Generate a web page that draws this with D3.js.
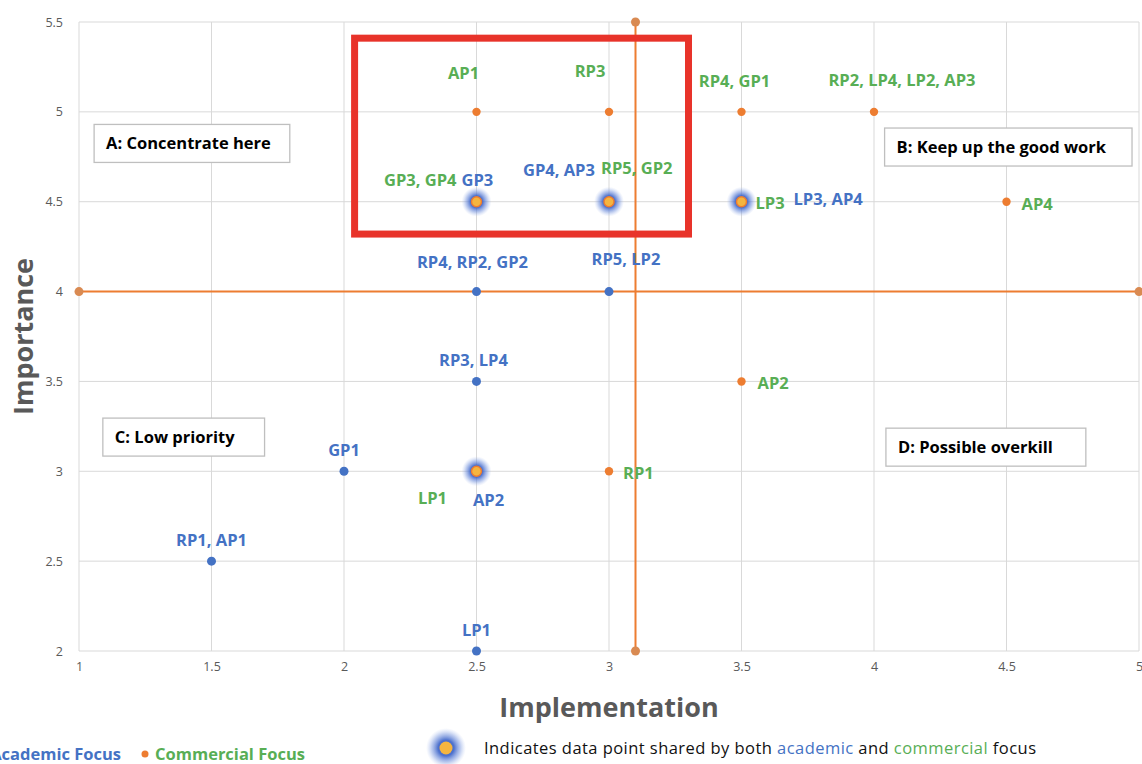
<!DOCTYPE html>
<html>
<head>
<meta charset="utf-8">
<script src="https://cdn.jsdelivr.net/npm/d3@7"></script>
<style>
  body { margin: 0; background: #fff; }
  svg { display: block; font-family: "Open Sans", sans-serif; }
</style>
</head>
<body>
<div id="chart"></div>
<script>
// ---- data ----
const xTicks = [1, 1.5, 2, 2.5, 3, 3.5, 4, 4.5, 5];
const yTicks = [2, 2.5, 3, 3.5, 4, 4.5, 5, 5.5];

// academic focus points (blue)
const academicX = [1.5, 2, 2.5, 2.5, 2.5, 3, 2.5, 3, 3.5, 2.5];
const academicY = [2.5, 3, 2, 3.5, 4, 4, 4.5, 4.5, 4.5, 3];
const academicLabels = ["RP1, AP1", "GP1", "LP1", "RP3, LP4", "RP4, RP2, GP2", "RP5, LP2", "GP3", "GP4, AP3", "LP3, AP4", "AP2"];

// commercial focus points (orange)
const commercialX = [2.5, 3, 3.5, 4, 4.5, 3.5, 3, 2.5, 3, 3.5, 2.5];
const commercialY = [5, 5, 5, 5, 4.5, 3.5, 3, 4.5, 4.5, 4.5, 3];
const commercialLabels = ["AP1", "RP3", "RP4, GP1", "RP2, LP4, LP2, AP3", "AP4", "AP2", "RP1", "GP3, GP4", "RP5, GP2", "LP3", "LP1"];

// points shared by both
const sharedX = [2.5, 3, 3.5, 2.5];
const sharedY = [4.5, 4.5, 4.5, 3];

// mean lines (quadrant split)
const splitX = 3.1;
const splitY = 4;

// quadrant notes
const quadrantText = ["A: Concentrate here", "B: Keep up the good work", "C: Low priority", "D: Possible overkill"];
const quadrantX = [1.057, 4.04, 1.09, 4.045];
const quadrantY = [4.93, 4.91, 3.296, 3.24];

// highlighted area
const highlightX = [2.04, 3.3];
const highlightY = [4.32, 5.41];

// ---- layout / style ----
const width = 1142, height = 764;
const margin = {left: 79, right: 3, top: 22, bottom: 113};
const blue = "#4472C4", orange = "#ED7D31", green = "#58AE55";
const boxPad = [31, 38, 42, 45];

// label placement [dx, dy, anchor] for each point, same order as data
const academicPlace = [[0, -21, "middle"], [0, -21, "middle"], [0, -21, "middle"], [-3, -21, "middle"], [-4, -30, "middle"],
  [17, -33, "middle"], [-15, -22, "start"], [-86, -32, "start"], [52, -3, "start"], [12, 29, "middle"]];
const commercialPlace = [[-13, -39, "middle"], [-19, -41, "middle"], [-7, -31, "middle"], [28, -32, "middle"], [15, 2, "start"],
  [16, 2, "start"], [14, 2, "start"], [-20, -22, "end"], [-8, -34, "start"], [14, 1, "start"], [-44, 27, "middle"]];

const x = d3.scaleLinear().domain([1, 5]).range([margin.left, width - margin.right]);
const y = d3.scaleLinear().domain([2, 5.5]).range([height - margin.bottom, margin.top]);

const svg = d3.select("#chart").append("svg").attr("width", width).attr("height", height);

const defs = svg.append("defs");
const glow = defs.append("radialGradient").attr("id", "glow");
glow.append("stop").attr("offset", "0%").attr("stop-color", "#3a62c8").attr("stop-opacity", 1);
glow.append("stop").attr("offset", "40%").attr("stop-color", "#3a62c8").attr("stop-opacity", 0.9);
glow.append("stop").attr("offset", "72%").attr("stop-color", "#6f8fdc").attr("stop-opacity", 0.45);
glow.append("stop").attr("offset", "100%").attr("stop-color", "#a9bdee").attr("stop-opacity", 0);

// grid
svg.append("g")
  .selectAll("line")
  .data(xTicks)
  .join("line")
  .attr("x1", d => x(d)).attr("x2", d => x(d))
  .attr("y1", y(2)).attr("y2", y(5.5))
  .attr("stroke", "#d9d9d9").attr("stroke-width", 1);

svg.append("g")
  .selectAll("line")
  .data(yTicks)
  .join("line")
  .attr("x1", x(1)).attr("x2", x(5))
  .attr("y1", d => y(d)).attr("y2", d => y(d))
  .attr("stroke", "#d9d9d9").attr("stroke-width", 1);

// axes (labels only)
const xAxis = g => g
  .attr("transform", `translate(0, ${y(2) + 8})`)
  .call(d3.axisBottom(x).tickValues(xTicks).tickFormat(d3.format("")).tickSize(0))
  .call(g => g.select(".domain").remove())
  .call(g => g.selectAll("text").attr("fill", "#595959").attr("font-size", 12.5).attr("font-family", "Open Sans"));

const yAxis = g => g
  .attr("transform", `translate(${x(1) - 13}, 0)`)
  .call(d3.axisLeft(y).tickValues(yTicks).tickFormat(d3.format("")).tickSize(0))
  .call(g => g.select(".domain").remove())
  .call(g => g.selectAll("text").attr("fill", "#595959").attr("font-size", 12.5).attr("font-family", "Open Sans"));

svg.append("g").call(xAxis);
svg.append("g").call(yAxis);

// quadrant lines
svg.append("line")
  .attr("x1", x(splitX)).attr("x2", x(splitX))
  .attr("y1", y(5.5)).attr("y2", y(2))
  .attr("stroke", orange).attr("stroke-width", 2);
svg.append("line")
  .attr("x1", x(1)).attr("x2", x(5))
  .attr("y1", y(splitY)).attr("y2", y(splitY))
  .attr("stroke", orange).attr("stroke-width", 2);

const ends = [[splitX, 5.5], [splitX, 2], [1, splitY], [5, splitY]];
svg.append("g")
  .selectAll("circle")
  .data(ends)
  .join("circle")
  .attr("cx", d => x(d[0])).attr("cy", d => y(d[1]))
  .attr("r", 4.5)
  .attr("fill", "#d98a52");

// quadrant boxes
const boxes = svg.append("g");
quadrantText.forEach((t, i) => {
  const g = boxes.append("g").attr("transform", `translate(${x(quadrantX[i])}, ${y(quadrantY[i])})`);
  const txt = g.append("text")
    .attr("x", 12).attr("y", 25)
    .attr("font-size", 16.5).attr("font-weight", 700)
    .attr("fill", "#000")
    .text(t);
  const w = txt.node().getComputedTextLength();
  g.insert("rect", "text")
    .attr("width", w + boxPad[i]).attr("height", 38)
    .attr("fill", "#fff").attr("stroke", "#bfbfbf").attr("stroke-width", 1.3);
});

// highlight rectangle
svg.append("rect")
  .attr("x", x(highlightX[0])).attr("y", y(highlightY[1]))
  .attr("width", x(highlightX[1]) - x(highlightX[0]))
  .attr("height", y(highlightY[0]) - y(highlightY[1]))
  .attr("fill", "none")
  .attr("stroke", "#E8332A")
  .attr("stroke-width", 7);

// glow for shared points
svg.append("g")
  .selectAll("circle")
  .data(sharedX)
  .join("circle")
  .attr("cx", d => x(d)).attr("cy", (d, i) => y(sharedY[i]))
  .attr("r", 15)
  .attr("fill", "url(#glow)");

const acad = academicX.map((d, i) => ({x: d, y: academicY[i], label: academicLabels[i], p: academicPlace[i]}));
const comm = commercialX.map((d, i) => ({x: d, y: commercialY[i], label: commercialLabels[i], p: commercialPlace[i]}));
const isShared = d => sharedX.some((s, j) => s === d.x && sharedY[j] === d.y);

// academic points
svg.append("g")
  .selectAll("circle")
  .data(acad.filter(d => !isShared(d)))
  .join("circle")
  .attr("cx", d => x(d.x)).attr("cy", d => y(d.y))
  .attr("r", 4.5)
  .attr("fill", blue);

// commercial points
svg.append("g")
  .selectAll("circle")
  .data(comm)
  .join("circle")
  .attr("cx", d => x(d.x)).attr("cy", d => y(d.y))
  .attr("r", d => isShared(d) ? 5 : 4.2)
  .attr("fill", d => isShared(d) ? "#F5B53F" : orange)
  .attr("stroke", d => isShared(d) ? orange : "none")
  .attr("stroke-width", 1.5);

// labels
const labelText = (data, color) => svg.append("g")
  .selectAll("text")
  .data(data)
  .join("text")
  .attr("x", d => x(d.x) + d.p[0])
  .attr("y", d => y(d.y) + d.p[1] + 6)
  .attr("text-anchor", d => d.p[2])
  .attr("font-size", 16.5)
  .attr("font-weight", 700)
  .attr("fill", color)
  .text(d => d.label);

labelText(comm, green);
labelText(acad, blue);

// axis titles
svg.append("text")
  .attr("x", x(3)).attr("y", 717)
  .attr("text-anchor", "middle")
  .attr("font-size", 27).attr("font-weight", 700)
  .attr("fill", "#595959")
  .text("Implementation");

svg.append("text")
  .attr("transform", `translate(33, ${y(3.75)}) rotate(-90)`)
  .attr("text-anchor", "middle")
  .attr("font-size", 27).attr("font-weight", 700)
  .attr("fill", "#595959")
  .text("Importance");

// legend (the left entry runs off the page edge, as in the original)
const legend = svg.append("g").attr("font-size", 16.5).attr("font-weight", 700);
legend.append("circle").attr("cx", -14).attr("cy", 754).attr("r", 3.5).attr("fill", blue);
legend.append("text").attr("x", 121).attr("y", 760).attr("text-anchor", "end").attr("fill", blue).text("Academic Focus");
legend.append("circle").attr("cx", 145).attr("cy", 754).attr("r", 3.5).attr("fill", orange);
legend.append("text").attr("x", 155).attr("y", 760).attr("fill", green).text("Commercial Focus");

legend.append("circle").attr("cx", 446).attr("cy", 748).attr("r", 20).attr("fill", "url(#glow)");
legend.append("circle").attr("cx", 446).attr("cy", 748).attr("r", 6.5).attr("fill", "#F5B53F");
const note = legend.append("text")
  .attr("x", 484).attr("y", 754)
  .attr("font-size", 16.5)
  .attr("font-weight", 400).attr("fill", "#111")
  .attr("textLength", 552).attr("lengthAdjust", "spacing");
note.append("tspan").text("Indicates data point shared by both ");
note.append("tspan").attr("fill", blue).text("academic");
note.append("tspan").text(" and ");
note.append("tspan").attr("fill", green).text("commercial");
note.append("tspan").text(" focus");
</script>
</body>
</html>
